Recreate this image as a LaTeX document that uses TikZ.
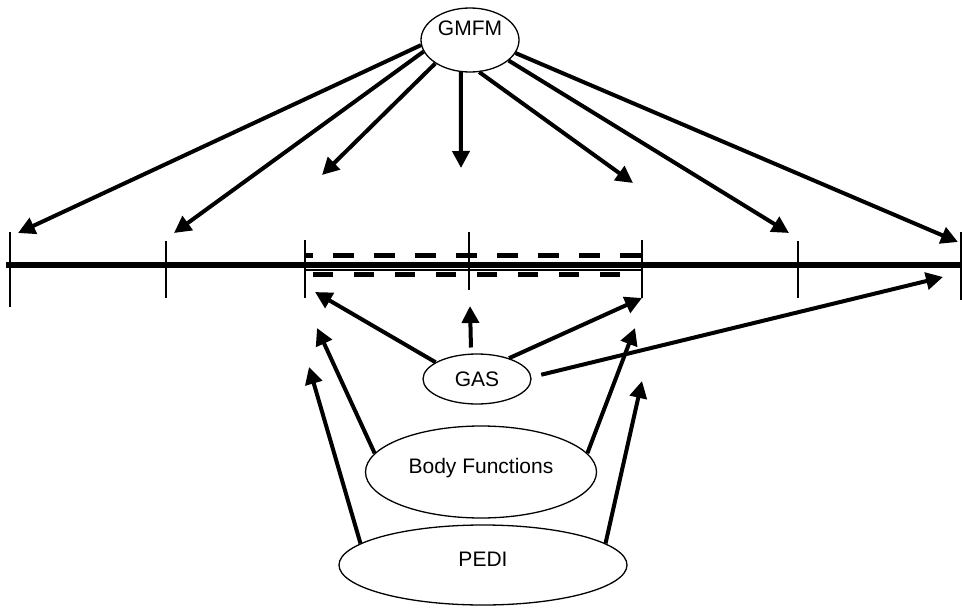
\documentclass[tikz,border=0pt]{standalone}
\usepackage{fontspec}
\setmainfont{Liberation Sans}
\usetikzlibrary{arrows.meta, positioning, shapes.geometric}

\begin{document}
\begin{tikzpicture}[
		x=1pt, y=-1pt,
		measure/.style={draw, ellipse, line width=1.3pt, inner sep=0pt, font=\fontsize{21}{25}\selectfont},
		link/.style={line width=4pt, -{Triangle[length=17pt, width=17pt]}},
		tick/.style={line width=1.6pt}
		]
		\useasboundingbox (0,0) rectangle (962,608);
		% scale line
		\draw[line width=6pt] (6,265) -- (962,265);
		\foreach \tx/\ta/\tb in {10/232/307, 166/241/298, 305/240/298, 469/232/290, 642/240/298, 798/241/298, 961/232/300}
		\draw[tick] (\tx,\ta) -- (\tx,\tb);
		\draw[line width=5pt, dash pattern=on 21pt off 20pt, dash phase=13pt] (305,255.5) -- (642,255.5);
		\draw[line width=1.5pt] (305,270) -- (642,270);
		\draw[line width=5pt, dash pattern=on 20pt off 21pt, dash phase=33pt] (305,274.5) -- (642,274.5);
		% measures
		\node[measure, minimum width=98pt, minimum height=64pt] (gmfm) at (470,40) {\raisebox{12pt}[\height][\depth]{GMFM}};
		\node[measure, minimum width=108pt, minimum height=50pt] (gas) at (477,379) {GAS};
		\node[measure, minimum width=231pt, minimum height=92pt] (body) at (481,472) {\raisebox{4pt}[\height][\depth]{Body Functions}};
		\node[measure, minimum width=288pt, minimum height=80pt] (pedi) at (483,565) {\raisebox{6pt}[\height][\depth]{PEDI}};
		% arrow tips
		\coordinate (t1) at (18,233);
		\coordinate (t2) at (174,233);
		\coordinate (t3) at (322,175);
		\coordinate (t4) at (461,168);
		\coordinate (t5) at (633,183);
		\coordinate (t6) at (789,233);
		\coordinate (t7) at (958,242);
		\coordinate (u1) at (315,292);
		\coordinate (u2) at (470,306);
		\coordinate (u3) at (642,298);
		\coordinate (u4) at (943,277);
		\coordinate (v1) at (317,328);
		\coordinate (v2) at (635,328);
		\coordinate (w1) at (309,367);
		\coordinate (w2) at (642,381);
		\path[link]
		(gmfm.186) edge (t1) (gmfm.194) edge (t2) (gmfm.214) edge (t3) (gmfm.254) edge (t4)
		(gmfm.286) edge (t5) (gmfm.332) edge (t6) (gmfm.344) edge (t7)
		(gas.158) edge (u1) (gas.103) edge[shorten <=6pt] (u2) (gas.33) edge (u3) (gas.2) edge[shorten <=10pt] (u4)
		(body.170) edge (v1) (body.10) edge (v2)
		(pedi.170) edge (w1) (pedi.10) edge (w2);
	\end{tikzpicture}
\end{document}
